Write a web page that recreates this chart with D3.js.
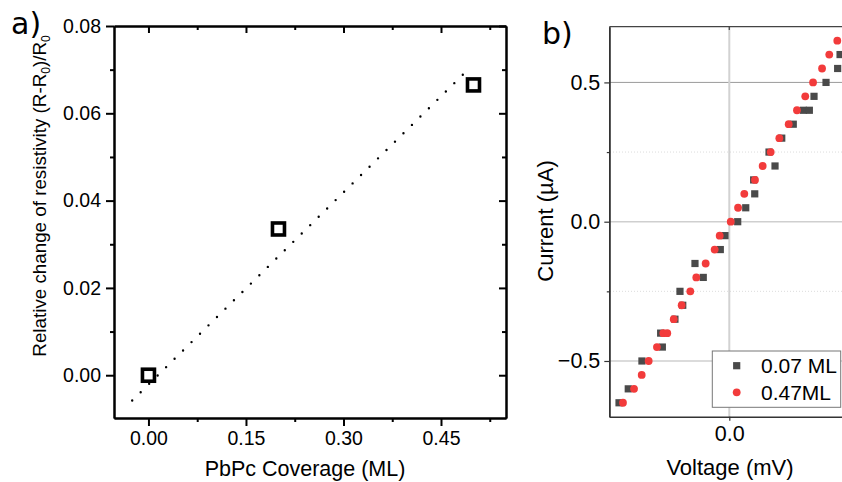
<!DOCTYPE html>
<html><head><meta charset="utf-8">
<script src="https://cdn.jsdelivr.net/npm/d3@7"></script>
<style>
body{margin:0;background:#fff;}
svg{display:block;font-family:"Liberation Sans",Arial,sans-serif;}
</style></head>
<body><svg id="c" width="842" height="482"></svg>
<script>
// ---- Panel a data ----
const coverage = [0, 0.2, 0.5];
const resistChange = [0.0, 0.0335, 0.0665];
const fitX = [-0.025, 0.495];
const fitY = [-0.0058, 0.0705];
const aYTicks = [0, 0.02, 0.04, 0.06, 0.08];
const aYMinor = [0.01, 0.03, 0.05, 0.07];
const aXTicks = [0, 0.15, 0.30, 0.45];
const aXMinor = [0.075, 0.225, 0.375, 0.525];

// ---- Panel b data ----
const current007 = [0.6,0.55,0.5,0.45,0.4,0.4,0.35,0.3,0.25,0.2,0.15,0.1,0.05,0,-0.05,-0.1,-0.15,-0.2,-0.25,-0.3,-0.35,-0.4,-0.45,-0.5,-0.6,-0.65];
const voltage007 = [0.923,0.903,0.806,0.706,0.617,0.667,0.533,0.437,0.331,0.381,0.203,0.212,0.137,0.070,-0.036,-0.075,-0.286,-0.217,-0.411,-0.388,-0.453,-0.572,-0.558,-0.728,-0.842,-0.919];
const current047 = [0.65,0.6,0.55,0.5,0.45,0.4,0.35,0.3,0.25,0.2,0.15,0.1,0.05,0,-0.05,-0.1,-0.15,-0.2,-0.25,-0.3,-0.35,-0.4,-0.4,-0.45,-0.5,-0.55,-0.6,-0.65];
const voltage047 = [0.900,0.833,0.773,0.698,0.633,0.564,0.495,0.417,0.345,0.278,0.214,0.125,0.073,0.012,-0.080,-0.122,-0.197,-0.275,-0.325,-0.397,-0.463,-0.550,-0.517,-0.603,-0.672,-0.730,-0.794,-0.886];
const bYTicks = [-0.5, 0, 0.5];
const bYMinor = [-0.25, 0.25];
const bXTicks = [0];
const legendLabels = ["0.07 ML", "0.47ML"];

const svg = d3.select("#c");

// ================= Panel a =================
const xA = d3.scaleLinear().domain([-0.053, 0.55]).range([114, 506]);
const yA = d3.scaleLinear().domain([-0.0098, 0.08]).range([418, 26]);

function styleAxis(g, w) {
  g.selectAll(".domain").attr("stroke", "#000").attr("stroke-width", w);
  g.selectAll(".tick line").attr("stroke", "#000").attr("stroke-width", w);
  g.selectAll("text").attr("font-family", "Liberation Sans, Arial, sans-serif").attr("fill", "#000");
}
const aLeft = svg.append("g").attr("transform", "translate(114,0)")
  .call(d3.axisLeft(yA).tickValues(aYTicks).tickFormat(d3.format(".2f")).tickSize(8).tickSizeOuter(0).tickPadding(5));
aLeft.selectAll("text").attr("font-size", 19.5);
styleAxis(aLeft, 2);
const aLeftMin = svg.append("g").attr("transform", "translate(114,0)")
  .call(d3.axisLeft(yA).tickValues(aYMinor).tickFormat("").tickSize(4).tickSizeOuter(0));
styleAxis(aLeftMin, 2);

const aBot = svg.append("g").attr("transform", "translate(0,418)")
  .call(d3.axisBottom(xA).tickValues(aXTicks).tickFormat(d3.format(".2f")).tickSize(8).tickSizeOuter(0).tickPadding(5));
aBot.selectAll("text").attr("font-size", 19.5);
styleAxis(aBot, 2);
const aBotMin = svg.append("g").attr("transform", "translate(0,418)")
  .call(d3.axisBottom(xA).tickValues(aXMinor).tickFormat("").tickSize(4).tickSizeOuter(0));
styleAxis(aBotMin, 2);

const aTop = svg.append("g").attr("transform", "translate(0,26)")
  .call(d3.axisTop(xA).tickValues(aXTicks).tickFormat("").tickSize(-7).tickSizeOuter(0));
styleAxis(aTop, 2);
const aTopMin = svg.append("g").attr("transform", "translate(0,26)")
  .call(d3.axisTop(xA).tickValues(aXMinor).tickFormat("").tickSize(-4).tickSizeOuter(0));
styleAxis(aTopMin, 2);
const aRight = svg.append("g").attr("transform", "translate(506,0)")
  .call(d3.axisRight(yA).tickValues(aYTicks).tickFormat("").tickSize(-7).tickSizeOuter(0));
styleAxis(aRight, 2);
const aRightMin = svg.append("g").attr("transform", "translate(506,0)")
  .call(d3.axisRight(yA).tickValues(aYMinor).tickFormat("").tickSize(-4).tickSizeOuter(0));
styleAxis(aRightMin, 2);

// fit line
svg.append("line")
  .attr("x1", xA(fitX[0])).attr("y1", yA(fitY[0]))
  .attr("x2", xA(fitX[1])).attr("y2", yA(fitY[1]))
  .attr("stroke", "#000").attr("stroke-width", 2.4)
  .attr("stroke-linecap", "round").attr("stroke-dasharray", "0,11.9");

// squares
svg.append("g").selectAll("rect").data(coverage).join("rect")
  .attr("x", (d) => xA(d) - 6)
  .attr("y", (d, i) => yA(resistChange[i]) - 6)
  .attr("width", 12).attr("height", 12)
  .attr("fill", "#fff").attr("stroke", "#000").attr("stroke-width", 3.6);

svg.append("text").attr("x", 305).attr("y", 476).attr("text-anchor", "middle")
  .attr("font-size", 21.5).text("PbPc Coverage (ML)");

const at = svg.append("text").attr("transform", "translate(46,196) rotate(-90)")
  .attr("text-anchor", "middle").attr("font-size", 18.8);
at.append("tspan").text("Relative change of resistivity (R-R");
at.append("tspan").attr("font-size", 12).attr("dy", 4).text("0");
at.append("tspan").attr("dy", -4).text(")/R");
at.append("tspan").attr("font-size", 12).attr("dy", 4).text("0");

svg.append("text").attr("x", 11).attr("y", 34).attr("font-family", "DejaVu Sans")
  .attr("font-size", 30).text("a)");

// ================= Panel b =================
const xB = d3.scaleLinear().domain([-1, 1]).range([609.3, 849.3]);
const yB = d3.scaleLinear().domain([-0.7, 0.7]).range([416.7, 26.7]);

// grids
svg.append("g").selectAll("line").data(bYMinor).join("line")
  .attr("x1", 610).attr("x2", 842).attr("y1", d => yB(d)).attr("y2", d => yB(d))
  .attr("stroke", "#dcdcdc").attr("stroke-width", 1).attr("stroke-dasharray", "1,2");
svg.append("g").selectAll("line").data(bYTicks).join("line")
  .attr("x1", 610).attr("x2", 842).attr("y1", d => yB(d)).attr("y2", d => yB(d))
  .attr("stroke", d => d === 0.5 ? "#9a9a9a" : "#cfcfcf").attr("stroke-width", d => d === 0.5 ? 1 : 1.6);
svg.append("g").selectAll("line").data(bXTicks).join("line")
  .attr("x1", d => xB(d)).attr("x2", d => xB(d)).attr("y1", 27).attr("y2", 417)
  .attr("stroke", "#d2d2d2").attr("stroke-width", 2);

// top frame
svg.append("line").attr("x1", 609.3).attr("x2", 842).attr("y1", 26.7).attr("y2", 26.7)
  .attr("stroke", "#444").attr("stroke-width", 1.2);
svg.append("g").selectAll("line").data(bXTicks).join("line")
  .attr("x1", d => xB(d)).attr("x2", d => xB(d)).attr("y1", 26.7).attr("y2", 30)
  .attr("stroke", "#444").attr("stroke-width", 1.2);

function styleB(g) {
  g.selectAll(".domain").attr("stroke", "#333").attr("stroke-width", 1.5);
  g.selectAll(".tick line").attr("stroke", "#333").attr("stroke-width", 1.2);
  g.selectAll("text").attr("font-family", "Liberation Sans, Arial, sans-serif").attr("fill", "#000").attr("font-size", 21.5);
}
const bLeft = svg.append("g").attr("transform", "translate(609.3,0)")
  .call(d3.axisLeft(yB).tickValues(bYTicks).tickFormat(d3.format(".1f")).tickSize(5).tickSizeOuter(0).tickPadding(4));
styleB(bLeft);
const bLeftMin = svg.append("g").attr("transform", "translate(609.3,0)")
  .call(d3.axisLeft(yB).tickValues(bYMinor).tickFormat("").tickSize(2.5).tickSizeOuter(0));
styleB(bLeftMin);
const bBot = svg.append("g").attr("transform", "translate(0,416.7)")
  .call(d3.axisBottom(xB).tickValues(bXTicks).tickFormat(d3.format(".1f")).tickSize(4).tickSizeOuter(0).tickPadding(5));
styleB(bBot);

// markers
svg.append("g").selectAll("rect").data(voltage007).join("rect")
  .attr("x", d => xB(d) - 3.6)
  .attr("y", (d, i) => yB(current007[i]) - 3.6)
  .attr("width", 7.2).attr("height", 7.2).attr("fill", "#4a4a4a");
svg.append("g").selectAll("circle").data(voltage047).join("circle")
  .attr("cx", d => xB(d))
  .attr("cy", (d, i) => yB(current047[i]))
  .attr("r", 3.9).attr("fill", "#f23b3b");

// legend
const lg = svg.append("g");
lg.append("rect").attr("x", 712.3).attr("y", 351).attr("width", 128.4).attr("height", 56.3)
  .attr("fill", "#fff").attr("stroke", "#777").attr("stroke-width", 1);
lg.append("rect").attr("x", 736.7 - 3.6).attr("y", 365.7 - 3.6).attr("width", 7.2).attr("height", 7.2).attr("fill", "#4a4a4a");
lg.append("circle").attr("cx", 736.7).attr("cy", 392.3).attr("r", 3.9).attr("fill", "#f23b3b");
lg.selectAll("text").data(legendLabels).join("text")
  .attr("x", 761).attr("y", (d, i) => 373.3 + i * 26.6)
  .attr("font-size", 21).text(d => d);

svg.append("text").attr("x", 730).attr("y", 475).attr("text-anchor", "middle")
  .attr("font-size", 22).text("Voltage (mV)");
svg.append("text").attr("transform", "translate(553,221) rotate(-90)")
  .attr("text-anchor", "middle").attr("font-size", 22).text("Current (µA)");
svg.append("text").attr("x", 542).attr("y", 44).attr("font-family", "DejaVu Sans")
  .attr("font-size", 30).text("b)");
</script></body></html>
